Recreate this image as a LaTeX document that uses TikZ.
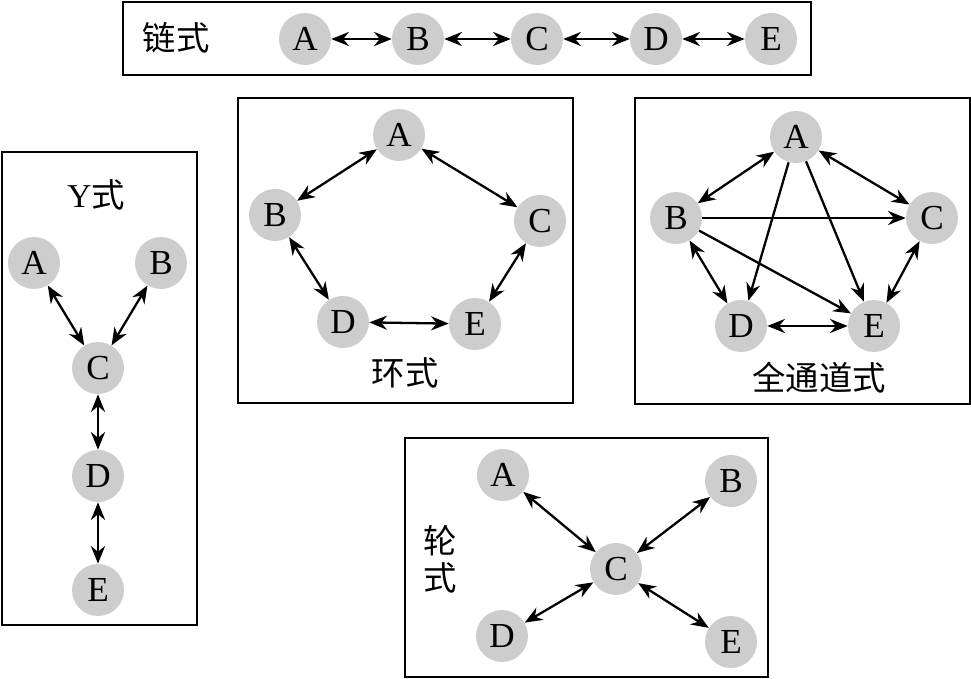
\documentclass[tikz,border=0pt]{standalone}
\usepackage{fontspec}
\setmainfont{Liberation Serif}
\newfontfamily\cjk{Noto Sans CJK SC}
\usetikzlibrary{arrows.meta,positioning}
\definecolor{nodegray}{RGB}{205,205,205}
\tikzset{
  pnode/.style={circle, fill=nodegray, minimum size=1.04cm, inner sep=0pt,
                font=\fontsize{20}{24}\selectfont},
  frame/.style={draw=black, line width=1.2pt},
  lbl/.style={font=\cjk\fontsize{19}{23}\selectfont, inner sep=0pt, align=center},
  darr/.style={{Stealth[length=10pt,width=8pt]}-{Stealth[length=10pt,width=8pt]}, line width=1.3pt},
  sarr/.style={-{Stealth[length=10pt,width=8pt]}, line width=1.3pt},
}

\begin{document}
\begin{tikzpicture}[x=0.02cm, y=-0.02cm]
    \useasboundingbox (0,0) rectangle (971,679);
    % chain
    \draw[frame] (123,2) rectangle (811,75);
    \node[lbl] (chainlbl) at (176,38) {链式};
    \node[pnode] (chA) at (305,39) {A};
    \node[pnode] (chB) at (418,39) {B};
    \node[pnode] (chC) at (537,39) {C};
    \node[pnode] (chD) at (656,39) {D};
    \node[pnode] (chE) at (771,39) {E};
    \draw[darr] (chA)--(chB); \draw[darr] (chB)--(chC);
    \draw[darr] (chC)--(chD); \draw[darr] (chD)--(chE);
    % Y
    \draw[frame] (2,152) rectangle (197,625);
    \node[lbl] (ylbl) at (96,195) {\fontspec{Liberation Serif}Y\cjk 式};
    \node[pnode] (yA) at (34,263) {A};
    \node[pnode] (yB) at (161,263) {B};
    \node[pnode] (yC) at (98,368) {C};
    \node[pnode] (yD) at (98,476) {D};
    \node[pnode] (yE) at (98,590) {E};
    \draw[darr] (yA)--(yC); \draw[darr] (yB)--(yC);
    \draw[darr] (yC)--(yD); \draw[darr] (yD)--(yE);
    % ring
    \draw[frame] (238,98) rectangle (573,403);
    \node[lbl] (ringlbl) at (405,373) {环式};
    \node[pnode] (rA) at (399,135) {A};
    \node[pnode] (rB) at (275,215) {B};
    \node[pnode] (rC) at (540,221) {C};
    \node[pnode] (rD) at (343,322) {D};
    \node[pnode] (rE) at (475,324) {E};
    \draw[darr] (rA)--(rB); \draw[darr] (rA)--(rC);
    \draw[darr] (rB)--(rD); \draw[darr] (rC)--(rE);
    \draw[darr] (rD)--(rE);
    % all channel
    \draw[frame] (635,98) rectangle (970,404);
    \node[lbl] (alllbl) at (819,378) {全通道式};
    \node[pnode] (aA) at (796,137) {A};
    \node[pnode] (aB) at (676,218) {B};
    \node[pnode] (aC) at (932,218) {C};
    \node[pnode] (aD) at (741,326) {D};
    \node[pnode] (aE) at (874,326) {E};
    \draw[darr] (aA)--(aB); \draw[darr] (aA)--(aC);
    \draw[darr] (aB)--(aD); \draw[darr] (aC)--(aE);
    \draw[darr] (aD)--(aE);
    \draw[sarr] (aB)--(aC); \draw[sarr] (aB)--(aE);
    \draw[sarr] (aA)--(aD); \draw[sarr] (aA)--(aE);
    % wheel
    \draw[frame] (405,438) rectangle (768,677);
    \node[lbl] (wheellbl) at (440,559) {轮\\[-2pt]式};
    \node[pnode] (wA) at (503,475) {A};
    \node[pnode] (wB) at (731,481) {B};
    \node[pnode] (wC) at (616,569) {C};
    \node[pnode] (wD) at (502,636) {D};
    \node[pnode] (wE) at (731,642) {E};
    \draw[darr] (wA)--(wC); \draw[darr] (wB)--(wC);
    \draw[darr] (wD)--(wC); \draw[darr] (wE)--(wC);
\end{tikzpicture}
\end{document}
